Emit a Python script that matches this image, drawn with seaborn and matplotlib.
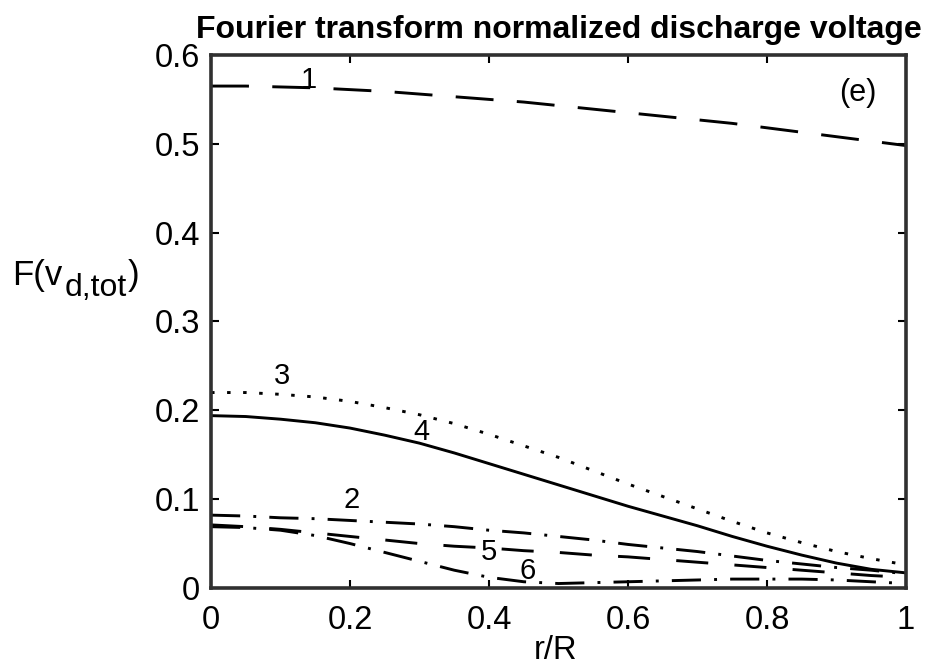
import matplotlib
matplotlib.use("Agg")
import matplotlib.pyplot as plt
import numpy as np
import pandas as pd
import seaborn as sns

# Radial positions r/R
r = [0.00, 0.05, 0.10, 0.15, 0.20, 0.25, 0.30, 0.35, 0.40, 0.45, 0.50,
     0.55, 0.60, 0.65, 0.70, 0.75, 0.80, 0.85, 0.90, 0.95, 1.00]

# Fourier components of the normalized discharge voltage, curves 1-6
c1 = [0.565, 0.565, 0.564, 0.563, 0.561, 0.559, 0.556, 0.553, 0.550, 0.547, 0.543,
      0.539, 0.535, 0.531, 0.527, 0.523, 0.518, 0.513, 0.508, 0.503, 0.498]
c2 = [0.082, 0.081, 0.079, 0.078, 0.076, 0.074, 0.072, 0.069, 0.065, 0.062, 0.058,
      0.054, 0.049, 0.045, 0.041, 0.036, 0.031, 0.027, 0.023, 0.020, 0.016]
c3 = [0.220, 0.220, 0.218, 0.215, 0.210, 0.203, 0.195, 0.185, 0.173, 0.160, 0.147,
      0.132, 0.117, 0.103, 0.089, 0.075, 0.062, 0.051, 0.041, 0.033, 0.026]
c4 = [0.194, 0.193, 0.190, 0.186, 0.180, 0.172, 0.163, 0.152, 0.140, 0.128, 0.116,
      0.104, 0.092, 0.081, 0.070, 0.058, 0.047, 0.037, 0.028, 0.021, 0.017]
c5 = [0.071, 0.069, 0.066, 0.062, 0.058, 0.054, 0.050, 0.047, 0.045, 0.042, 0.040,
      0.037, 0.035, 0.032, 0.029, 0.026, 0.023, 0.020, 0.017, 0.014, 0.012]
c6 = [0.069, 0.068, 0.065, 0.059, 0.050, 0.040, 0.030, 0.020, 0.012, 0.007, 0.005,
      0.006, 0.007, 0.008, 0.009, 0.010, 0.010, 0.010, 0.009, 0.007, 0.005]

curve_names = ["1", "2", "3", "4", "5", "6"]
curve_values = [c1, c2, c3, c4, c5, c6]

x_ticks = [0, 0.2, 0.4, 0.6, 0.8, 1]
x_ticklabels = ["0", "0.2", "0.4", "0.6", "0.8", "1"]
y_ticks = [0, 0.1, 0.2, 0.3, 0.4, 0.5, 0.6]
y_ticklabels = ["0", "0.1", "0.2", "0.3", "0.4", "0.5", "0.6"]

df = pd.DataFrame({
    "r": np.tile(r, len(curve_names)),
    "F": np.concatenate(curve_values),
    "curve": np.repeat(curve_names, len(r)),
})

sns.set_theme(style="ticks")
plt.rcParams["font.family"] = ["Liberation Sans", "DejaVu Sans"]
plt.rcParams["text.color"] = "black"

W, H = 926, 668
fig = plt.figure(figsize=(W / 100, H / 100), dpi=100)
ax = fig.add_axes([0.2279, 0.1198, 0.7505, 0.7979])

line_dashes = {
    "1": (13, 8),
    "2": (10, 4.5, 1, 4.5),
    "3": (1.2, 4.3),
    "4": "",
    "5": (11, 9),
    "6": (10, 4.5, 1, 4.5),
}

sns.lineplot(data=df, x="r", y="F", style="curve", dashes=line_dashes,
             color="black", linewidth=2.1, legend=False, ax=ax)

ax.set_xlim(0, 1)
ax.set_ylim(0, 0.6)
ax.set_xticks(x_ticks)
ax.set_xticklabels(x_ticklabels)
ax.set_yticks(y_ticks)
ax.set_yticklabels(y_ticklabels)
ax.tick_params(direction="in", length=6, width=1.5, top=True, right=True,
               labelsize=23.5, colors="black")
ax.tick_params(axis="x", pad=12)
ax.tick_params(axis="y", pad=8)
for s in ax.spines.values():
    s.set_linewidth(2.6)
    s.set_color("#303030")

ax.set_xlabel("")
ax.set_ylabel("")
fig.text(0.600, 0.0265, "r/R", fontsize=23.5, ha="center", va="center")

ax.set_title("Fourier transform normalized discharge voltage",
             fontsize=23, fontweight="bold", pad=12, color="black")

# Y-axis label F(v_{d,tot}) built from pieces so the subscript stays large
fig.canvas.draw()
renderer = fig.canvas.get_renderer()
base_y = 1 - 285 / H
sub_y = 1 - 296 / H
t_main = fig.text(12 / W, base_y, "F(v", fontsize=25, ha="left", va="baseline")
x_next = t_main.get_window_extent(renderer).x1 / W
t_sub = fig.text(x_next + 2 / W, sub_y, "d,tot", fontsize=23, ha="left", va="baseline")
x_next = t_sub.get_window_extent(renderer).x1 / W
fig.text(x_next + 1 / W, base_y, ")", fontsize=25, ha="left", va="baseline")

# Curve numbers and panel tag
ax.text(0.140, 0.572, "1", fontsize=21, ha="center", va="center")
ax.text(0.102, 0.239, "3", fontsize=21, ha="center", va="center")
ax.text(0.303, 0.176, "4", fontsize=21, ha="center", va="center")
ax.text(0.203, 0.099, "2", fontsize=21, ha="center", va="center")
ax.text(0.400, 0.041, "5", fontsize=21, ha="center", va="center")
ax.text(0.455, 0.019, "6", fontsize=21, ha="center", va="center")
ax.text(0.931, 0.557, "(e)", fontsize=22, ha="center", va="center")

fig.savefig("out.png", dpi=100)
